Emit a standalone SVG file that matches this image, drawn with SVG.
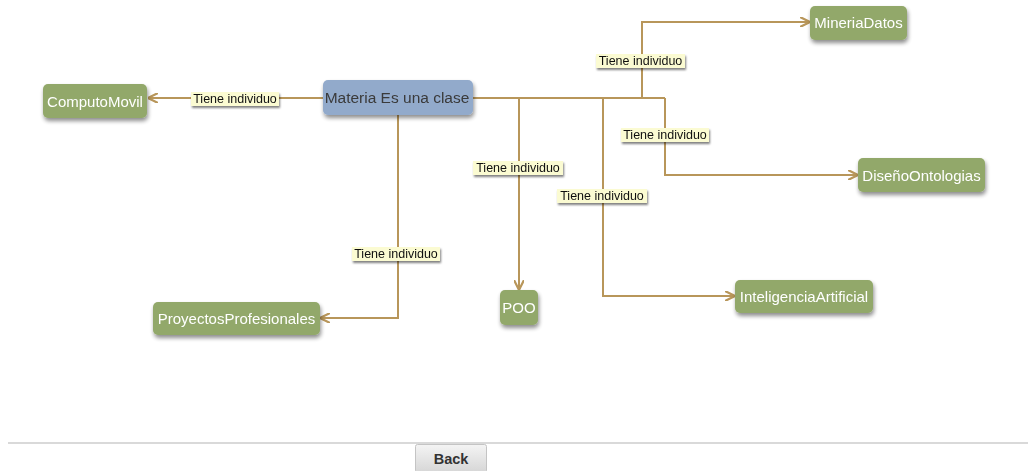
<svg xmlns="http://www.w3.org/2000/svg" width="1028" height="471" viewBox="0 0 1028 471">
<style>
.node rect.g{fill:#92a86a;}
.node rect.b{fill:#92aacb;}
.nt{font-family:"Liberation Sans",Arial,sans-serif;font-size:15px;fill:#ffffff;text-anchor:middle;dominant-baseline:central;}
.nt.dark{fill:#3a3a3a;font-size:15.5px;}
.edge{fill:none;stroke:#b8965a;stroke-width:2;}
.lbl rect{fill:#fbfbd2;}
.lbl text{font-family:"Liberation Sans",Arial,sans-serif;font-size:12.5px;fill:#111;text-anchor:middle;dominant-baseline:central;}
</style>
<defs>
<filter id="sh" x="-20%" y="-30%" width="140%" height="170%">
<feGaussianBlur in="SourceAlpha" stdDeviation="2"/>
<feOffset dx="1" dy="3" result="o"/>
<feComponentTransfer><feFuncA type="linear" slope="0.45"/></feComponentTransfer>
<feMerge><feMergeNode/><feMergeNode in="SourceGraphic"/></feMerge>
</filter>
<filter id="lsh" x="-10%" y="-30%" width="120%" height="170%">
<feGaussianBlur in="SourceAlpha" stdDeviation="1"/>
<feOffset dx="1" dy="1.5" result="o"/>
<feComponentTransfer><feFuncA type="linear" slope="0.5"/></feComponentTransfer>
<feMerge><feMergeNode/><feMergeNode in="SourceGraphic"/></feMerge>
</filter>
<marker id="arr" viewBox="0 0 10 10" refX="9" refY="5" markerWidth="5" markerHeight="5" orient="auto">
<path d="M0,0 L10,5 L0,10" fill="none" stroke="#b8965a" stroke-width="2.2"/>
</marker>
<linearGradient id="btn" x1="0" y1="0" x2="0" y2="1">
<stop offset="0" stop-color="#f4f4f4"/>
<stop offset="1" stop-color="#d6d6d6"/>
</linearGradient>
</defs>
<rect width="1028" height="471" fill="#ffffff"/>

<g id="connectors">
<path class="edge" d="M323,98 L149,98" marker-end="url(#arr)"/>
<path class="edge" d="M473,98 L665,98"/>
<path class="edge" d="M642,98 L642,22 L809,22" marker-end="url(#arr)"/>
<path class="edge" d="M519,98 L519,289" marker-end="url(#arr)"/>
<path class="edge" d="M603,98 L603,296 L734,296" marker-end="url(#arr)"/>
<path class="edge" d="M665,98 L665,175 L857,175" marker-end="url(#arr)"/>
<path class="edge" d="M398,115 L398,318 L321,318" marker-end="url(#arr)"/>
<g class="lbl" filter="url(#lsh)">
<rect x="191" y="92" width="88" height="14"/><text x="235" y="99">Tiene individuo</text>
<rect x="596" y="54" width="89" height="14"/><text x="640.5" y="61">Tiene individuo</text>
<rect x="473" y="161" width="90" height="14"/><text x="518" y="168">Tiene individuo</text>
<rect x="621" y="128" width="88" height="14"/><text x="665" y="135">Tiene individuo</text>
<rect x="557" y="189" width="90" height="14"/><text x="602" y="196">Tiene individuo</text>
<rect x="352" y="247" width="88" height="14"/><text x="396" y="254">Tiene individuo</text>
</g>
</g>

<g id="node-materia" class="node" filter="url(#sh)">
<rect class="b" x="323" y="80" width="150" height="35" rx="5"/>
<text class="nt dark" x="397" y="97">Materia Es una clase</text>
</g>
<g id="node-computomovil" class="node" filter="url(#sh)">
<rect class="g" x="43" y="84" width="104" height="34" rx="5"/>
<text class="nt" x="95" y="101">ComputoMovil</text>
</g>
<g id="node-mineriadatos" class="node" filter="url(#sh)">
<rect class="g" x="810" y="6" width="97" height="34" rx="5"/>
<text class="nt" x="858.5" y="22">MineriaDatos</text>
</g>
<g id="node-disenoontologias" class="node" filter="url(#sh)">
<rect class="g" x="858" y="158" width="127" height="34" rx="5"/>
<text class="nt" x="921.5" y="175">DiseñoOntologias</text>
</g>
<g id="node-poo" class="node" filter="url(#sh)">
<rect class="g" x="500" y="290" width="38" height="35" rx="5"/>
<text class="nt" x="519" y="307">POO</text>
</g>
<g id="node-inteligenciaartificial" class="node" filter="url(#sh)">
<rect class="g" x="735" y="280" width="138" height="33" rx="5"/>
<text class="nt" x="804" y="296">InteligenciaArtificial</text>
</g>
<g id="node-proyectosprofesionales" class="node" filter="url(#sh)">
<rect class="g" x="153" y="302" width="167" height="33" rx="5"/>
<text class="nt" x="236.5" y="318">ProyectosProfesionales</text>
</g>

<g id="footer">
<line x1="8" y1="443" x2="1028" y2="443" stroke="#cccccc" stroke-width="1.5"/>
<rect x="415.5" y="444.5" width="71" height="28" fill="url(#btn)" stroke="#c4c4c4" rx="2"/>
<text x="451" y="459" font-family="'Liberation Sans',Arial,sans-serif" font-size="14.5" font-weight="bold" fill="#333" text-anchor="middle" dominant-baseline="central">Back</text>
</g>
</svg>
